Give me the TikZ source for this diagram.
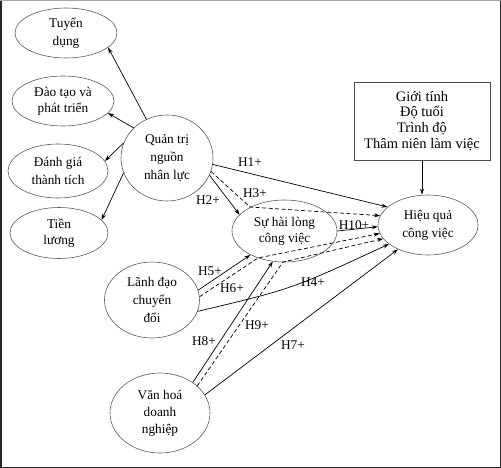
\documentclass[tikz,border=0pt]{standalone}
\usepackage{fontspec}
\setmainfont{Liberation Serif}
\usetikzlibrary{shapes.geometric,arrows.meta}
\begin{document}
\begin{tikzpicture}[x=1pt,y=-1pt,
  ell/.style={ellipse,draw=black!65,line width=0.6pt,inner sep=0pt,align=center},
  fa/.style={font=\fontsize{13.3}{18}\selectfont},
  fb/.style={font=\fontsize{13.3}{16}\selectfont},
  arr/.style={draw=black,line width=0.7pt,-{Stealth[length=6pt,width=4pt]}},
  dsh/.style={arr,dash pattern=on 4pt off 2.5pt},
  lbl/.style={font=\fontsize{13.3}{16}\selectfont,inner sep=1pt}]
\useasboundingbox (0,0) rectangle (501,468);
\draw[black!85,line width=1.5pt] (0.75,0.75) rectangle (500.25,467.25);
\draw[black!35,line width=1.5pt] (0,0.75) -- (501,0.75);
% nodes
\node[ell,fa,minimum width=102pt,minimum height=50pt] (td) at (66,33) {Tuyển\\dụng};
\node[ell,fb,minimum width=102pt,minimum height=50pt] (dt) at (63,101) {Đào tạo và\\phát triển};
\node[ell,fa,minimum width=100pt,minimum height=54pt] (dg) at (58,171) {Đánh giá\\thành tích};
\node[ell,fb,minimum width=98pt,minimum height=51pt] (tl) at (59,233) {Tiền\\lương};
\node[ell,fa,minimum width=92pt,minimum height=86pt] (qt) at (167,158) {Quản trị\\nguồn\\nhân lực};
\node[ell,fb,minimum width=105pt,minimum height=62pt] (shl) at (284.5,231) {Sự hài lòng\\công việc};
\node[ell,fa,minimum width=100pt,minimum height=60pt] (hq) at (428,225) {Hiệu quả\\công việc};
\node[draw=black!70,line width=0.6pt,inner sep=0pt,minimum width=136pt,minimum height=78pt,align=center,font=\fontsize{14.5}{15.7}\selectfont] (box) at (422,121) {Giới tính\\Độ tuổi\\Trình độ\\Thâm niên làm việc};
\node[ell,fa,minimum width=95pt,minimum height=76pt] (ld) at (152,300) {Lãnh đạo\\chuyển\\đổi};
\node[ell,font=\fontsize{13.3}{17}\selectfont,minimum width=100pt,minimum height=80pt] (vh) at (160,413) {Văn hoá\\doanh\\nghiệp};
% bend points
\coordinate (b3) at (250,207);
\coordinate (b6) at (258,258);
\coordinate (b9) at (283,262);
\coordinate (c4) at (292,289);
% connectors
\draw[arr] (qt.118) -- (td.-19);
\draw[arr] (qt.138) -- (dt.-15);
\draw[arr] (qt.161) -- (dg.12);
\draw[arr] (qt.199) -- (tl.17);
\draw[arr] (qt.-8) -- (hq.156);
\draw[arr] (qt.-22) -- (shl.160);
\draw[dsh] (qt.-17) -- (b3) -- (hq.169);
\draw[arr] (shl.0) -- (hq.182);
\draw[arr] (ld.12) -- (shl.215);
\draw[dsh] (ld.4) -- (b6) -- (hq.190);
\draw[arr] (ld.-14) .. controls (c4) .. (hq.206);
\draw[arr] (vh.43) -- (shl.249);
\draw[dsh] (vh.36) -- (b9) -- (hq.197);
\draw[arr] (vh.22) -- (hq.219);
\draw[arr] (box.south) -- (box.south |- hq.north);
% labels
\node[lbl] (l1) at (250,162) {H1+};
\node[lbl] (l2) at (208,200) {H2+};
\node[lbl] (l3) at (255,193) {H3+};
\node[lbl] (l10) at (354,225) {H10+};
\node[lbl] (l5) at (210,271) {H5+};
\node[lbl] (l6) at (232,288) {H6+};
\node[lbl] (l4) at (313,282) {H4+};
\node[lbl] (l9) at (257,325) {H9+};
\node[lbl] (l8) at (204,341) {H8+};
\node[lbl] (l7) at (293,345) {H7+};
\end{tikzpicture}
\end{document}
